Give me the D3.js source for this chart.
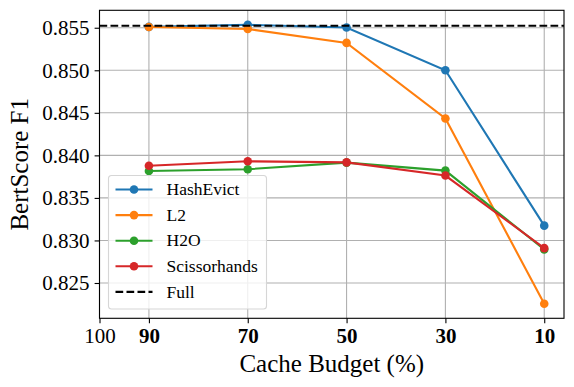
<!DOCTYPE html>
<html>
<head>
<meta charset="utf-8">
<script src="https://cdn.jsdelivr.net/npm/d3@7"></script>
<style>
  body { margin: 0; background: #fff; }
  svg text { font-family: "Liberation Serif", "Times New Roman", serif; fill: #000; }
</style>
</head>
<body>
<div id="chart"></div>
<script>
const budgets = [90, 70, 50, 30, 10];
const hashEvict = [0.8551, 0.85535, 0.85503, 0.8500, 0.83174];
const l2 = [0.85508, 0.85485, 0.85322, 0.84434, 0.82256];
const h2o = [0.83817, 0.83837, 0.83915, 0.83821, 0.82895];
const scissorhands = [0.83878, 0.8393, 0.83918, 0.83763, 0.8291];
const fullScore = 0.85523;
const yTicks = [0.825, 0.830, 0.835, 0.840, 0.845, 0.850, 0.855];
const xTicks = [100, 90, 70, 50, 30, 10];

const series = [
  { name: 'HashEvict', values: hashEvict, color: '#1f77b4' },
  { name: 'L2', values: l2, color: '#ff7f0e' },
  { name: 'H2O', values: h2o, color: '#2ca02c' },
  { name: 'Scissorhands', values: scissorhands, color: '#d62728' }
];

const width = 574, height = 387;
const plotLeft = 99.5, plotRight = 564, plotTop = 10.3, plotBottom = 318.3;

const svg = d3.select('#chart').append('svg')
  .attr('width', width)
  .attr('height', height);

const x = d3.scaleLinear().domain([100, 6]).range([plotLeft, plotRight]);
const y = d3.scaleLinear().domain([0.82085, 0.85705]).range([plotBottom, plotTop]);

// grid
svg.append('g').selectAll('line')
  .data(xTicks)
  .enter().append('line')
  .attr('x1', d => x(d)).attr('x2', d => x(d))
  .attr('y1', plotTop).attr('y2', plotBottom)
  .attr('stroke', '#b0b0b0').attr('stroke-width', 1.1);
svg.append('g').selectAll('line')
  .data(yTicks)
  .enter().append('line')
  .attr('x1', plotLeft).attr('x2', plotRight)
  .attr('y1', d => y(d)).attr('y2', d => y(d))
  .attr('stroke', '#b0b0b0').attr('stroke-width', 1.1);

// axes
const xAxis = d3.axisBottom(x).tickValues(xTicks).tickSize(4.9).tickPadding(5);
const gx = svg.append('g')
  .attr('transform', `translate(0,${plotBottom})`)
  .call(xAxis);
gx.select('.domain').remove();
gx.selectAll('text')
  .attr('font-size', 21)
  .attr('font-weight', d => d === 100 ? 'normal' : 'bold');
gx.selectAll('line').attr('stroke', '#000').attr('stroke-width', 1.1);

const yAxis = d3.axisLeft(y).tickValues(yTicks).tickFormat(d3.format('.3f')).tickSize(4.9).tickPadding(5);
const gy = svg.append('g')
  .attr('transform', `translate(${plotLeft},0)`)
  .call(yAxis);
gy.select('.domain').remove();
gy.selectAll('text')
  .attr('font-size', 21);
gy.selectAll('line').attr('stroke', '#000').attr('stroke-width', 1.1);

// series
const line = d3.line()
  .x((d, i) => x(budgets[i]))
  .y(d => y(d));

series.forEach(s => {
  svg.append('path')
    .datum(s.values)
    .attr('d', line)
    .attr('fill', 'none')
    .attr('stroke', s.color)
    .attr('stroke-width', 2.1);
  svg.append('g').selectAll('circle')
    .data(s.values)
    .enter().append('circle')
    .attr('cx', (d, i) => x(budgets[i]))
    .attr('cy', d => y(d))
    .attr('r', 4.3)
    .attr('fill', s.color);
});

// full reference line
svg.append('line')
  .attr('x1', plotLeft).attr('x2', plotRight)
  .attr('y1', y(fullScore)).attr('y2', y(fullScore))
  .attr('stroke', '#000')
  .attr('stroke-width', 2.1)
  .attr('stroke-dasharray', '7.7,3.3');

// frame
svg.append('rect')
  .attr('x', plotLeft).attr('y', plotTop)
  .attr('width', plotRight - plotLeft).attr('height', plotBottom - plotTop)
  .attr('fill', 'none').attr('stroke', '#000').attr('stroke-width', 1.1);

// axis labels
svg.append('text')
  .attr('x', (plotLeft + plotRight) / 2)
  .attr('y', 372)
  .attr('text-anchor', 'middle')
  .attr('font-size', 25)
  .text('Cache Budget (%)');

svg.append('text')
  .attr('transform', `translate(28,${(plotTop + plotBottom) / 2}) rotate(-90)`)
  .attr('text-anchor', 'middle')
  .attr('font-size', 25)
  .text('BertScore F1');

// legend
const legendItems = series.map(s => ({ name: s.name, color: s.color, dashed: false }))
  .concat([{ name: 'Full', color: '#000', dashed: true }]);

const legend = svg.append('g').attr('transform', 'translate(108.5,175.5)');
legend.append('rect')
  .attr('width', 158)
  .attr('height', 133.5)
  .attr('rx', 3)
  .attr('fill', 'rgba(255,255,255,0.8)')
  .attr('stroke', '#d6d6d6')
  .attr('stroke-width', 1.1);

const rows = legend.selectAll('g.row')
  .data(legendItems)
  .enter().append('g')
  .attr('class', 'row')
  .attr('transform', (d, i) => `translate(0,${14 + i * 25.6})`);
rows.append('line')
  .attr('x1', 7).attr('x2', 44)
  .attr('stroke', d => d.color)
  .attr('stroke-width', 2.1)
  .attr('stroke-dasharray', d => d.dashed ? '7.7,3.3' : null);
rows.filter(d => !d.dashed).append('circle')
  .attr('cx', 25.5)
  .attr('r', 4.3)
  .attr('fill', d => d.color);
rows.append('text')
  .attr('x', 58)
  .attr('dy', '0.33em')
  .attr('font-size', 17.5)
  .text(d => d.name);
</script>
</body>
</html>
